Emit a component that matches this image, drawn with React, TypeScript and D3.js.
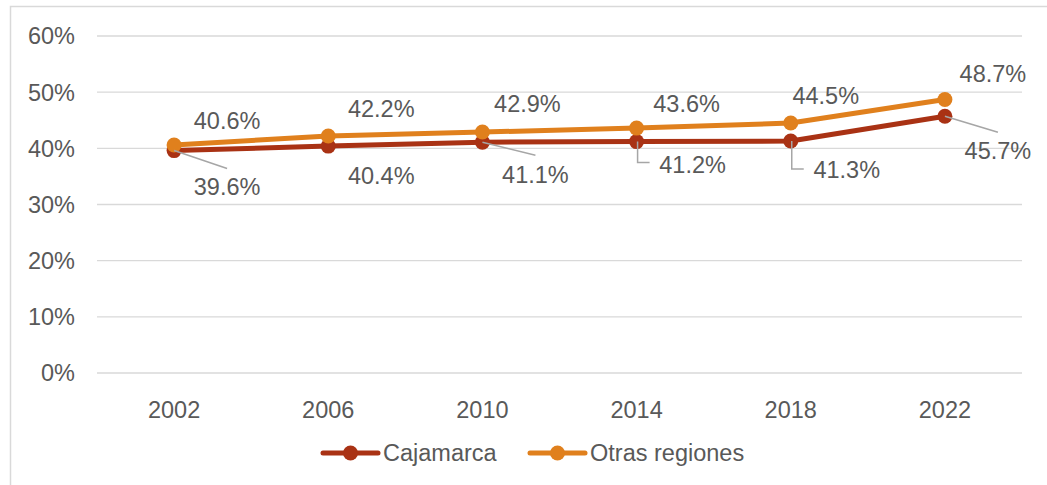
import React from "react";
import * as d3 from "d3";

const years = ["2002", "2006", "2010", "2014", "2018", "2022"];
const cajamarca = [39.6, 40.4, 41.1, 41.2, 41.3, 45.7];
const otras = [40.6, 42.2, 42.9, 43.6, 44.5, 48.7];
const yTicks = [0, 10, 20, 30, 40, 50, 60];
const seriesNames = ["Cajamarca", "Otras regiones"];

// label offsets (styling) relative to point
const otrasLabelOffsets = [[53, -24], [53, -27], [45, -29], [50, -25], [35, -28], [48, -26]];
const cajLabelOffsets = [[53, 36], [53, 29], [53, 32], [56, 23], [56, 29], [53, 34]];
// leader: type and end offsets
const cajLeaders: (null | { kind: "line" | "elbow"; dx: number; dy: number })[] = [
  { kind: "line", dx: 53, dy: 18 },
  null,
  { kind: "line", dx: 53, dy: 13 },
  { kind: "elbow", dx: 13, dy: 21 },
  { kind: "elbow", dx: 13, dy: 28 },
  { kind: "line", dx: 53, dy: 16 },
];

const W = 1047, H = 485;
const FONT = "'Liberation Sans', Arial, sans-serif";
const TEXT = "#595959";
const C_CAJ = "#A93214";
const C_OTR = "#E0801D";

export default function App() {
  const x = d3.scaleBand<string>().domain(years).range([97, 1022]);
  const y = d3.scaleLinear().domain([0, 60]).range([373, 36]);
  const cx = (d: string) => (x(d) as number) + x.bandwidth() / 2;
  const line = d3.line<number>().x((_, i) => cx(years[i])).y((v) => y(v));

  return (
    <svg width={W} height={H} style={{ position: "absolute", left: 0, top: 0, background: "#fff" }}>
      <rect x={10.5} y={6.5} width={1100} height={600} fill="none" stroke="#d9d9d9" strokeWidth={1.5} />
      {yTicks.map((t) => (
        <g key={t}>
          <line x1={97} x2={1022} y1={y(t)} y2={y(t)} stroke="#d9d9d9" strokeWidth={1.3} />
          <text x={75} y={y(t)} dy="0.36em" textAnchor="end" fontFamily={FONT} fontSize={23.5} fill={TEXT}>
            {t}%
          </text>
        </g>
      ))}
      {years.map((yr) => (
        <text key={yr} x={cx(yr)} y={410} dy="0.36em" textAnchor="middle" fontFamily={FONT} fontSize={23.5} fill={TEXT}>
          {yr}
        </text>
      ))}
      <path d={line(cajamarca) || ""} fill="none" stroke={C_CAJ} strokeWidth={5} strokeLinejoin="round" />
      <path d={line(otras) || ""} fill="none" stroke={C_OTR} strokeWidth={5} strokeLinejoin="round" />
      {cajamarca.map((v, i) => (
        <circle key={"c" + i} cx={cx(years[i])} cy={y(v)} r={7.5} fill={C_CAJ} />
      ))}
      {otras.map((v, i) => (
        <circle key={"o" + i} cx={cx(years[i])} cy={y(v)} r={7.5} fill={C_OTR} />
      ))}
      {cajLeaders.map((l, i) => {
        if (!l) return null;
        const px = cx(years[i]);
        const py = y(cajamarca[i]);
        const d =
          l.kind === "line"
            ? `M${px},${py}L${px + l.dx},${py + l.dy}`
            : `M${px + 1},${py}L${px + 1},${py + l.dy}L${px + l.dx},${py + l.dy}`;
        return <path key={"l" + i} d={d} fill="none" stroke="#a6a6a6" strokeWidth={1.5} />;
      })}
      {otras.map((v, i) => (
        <text key={"ot" + i} x={cx(years[i]) + otrasLabelOffsets[i][0]} y={y(v) + otrasLabelOffsets[i][1]} dy="0.36em"
          textAnchor="middle" fontFamily={FONT} fontSize={23.5} fill={TEXT}>
          {v.toFixed(1)}%
        </text>
      ))}
      {cajamarca.map((v, i) => (
        <text key={"ct" + i} x={cx(years[i]) + cajLabelOffsets[i][0]} y={y(v) + cajLabelOffsets[i][1]} dy="0.36em"
          textAnchor="middle" fontFamily={FONT} fontSize={23.5} fill={TEXT}>
          {v.toFixed(1)}%
        </text>
      ))}
      {seriesNames.map((n, i) => {
        const x0 = i === 0 ? 323 : 530;
        const col = i === 0 ? C_CAJ : C_OTR;
        return (
          <g key={n}>
            <line x1={x0} x2={x0 + 55} y1={453} y2={453} stroke={col} strokeWidth={5} strokeLinecap="round" />
            <circle cx={x0 + 27.5} cy={453} r={7.5} fill={col} />
            <text x={x0 + 60} y={453} dy="0.36em" fontFamily={FONT} fontSize={23.5} fill={TEXT}>
              {n}
            </text>
          </g>
        );
      })}
    </svg>
  );
}
